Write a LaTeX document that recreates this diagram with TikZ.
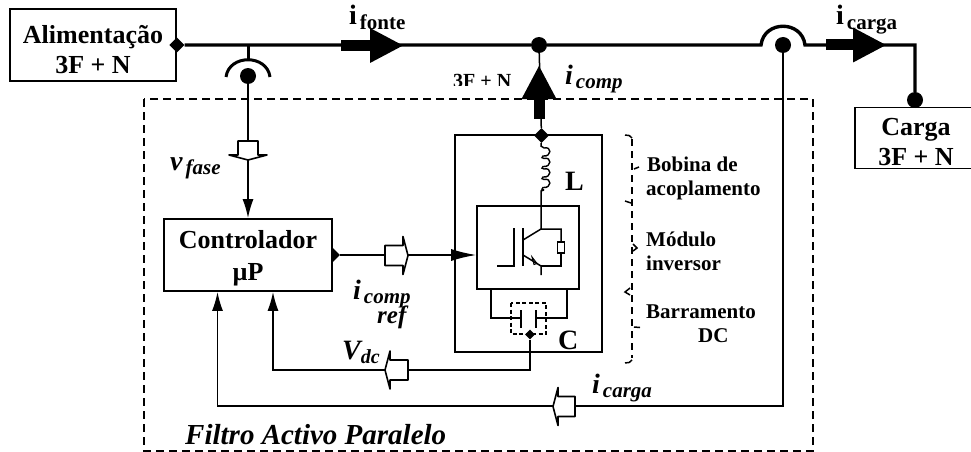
\documentclass[tikz,border=0pt]{standalone}
\usepackage{fontspec}
\setmainfont{Liberation Serif}
\usetikzlibrary{arrows.meta,positioning,calc,shapes.geometric}
\newcommand{\fsz}[1]{\fontsize{#1}{#1}\selectfont}
\newcommand{\sublbl}[2]{#1\hspace{3pt}\raisebox{-4.5pt}{\fsz{21}#2}}
\tikzset{
  boxnode/.style={draw, line width=1.8pt, fill=white, align=center, inner sep=0pt, font=\fsz{26}\bfseries},
  lbl/.style={inner sep=0pt, anchor=base west},
  sidelbl/.style={lbl, font=\fsz{21}\bfseries},
  dotnode/.style={circle, fill=black, inner sep=0pt, minimum size=16pt},
  diamnode/.style={diamond, fill=black, inner sep=0pt, minimum size=15pt},
  mainline/.style={line width=3.4pt},
  ctrlline/.style={line width=1.5pt},
  ctrlarrow/.style={line width=1.5pt, -{Latex[length=19pt,width=11pt]}},
  pics/blockarrow/.style={code={
    \draw[line width=1.6pt, fill=white, line join=round] (-#1-5,-10) -- (-5,-10) -- (-5,-19) -- (0,0) -- (-5,19) -- (-5,10) -- (-#1-5,10) -- cycle;
  }},
  pics/powerarrow/.style={code={
    \fill (-#1-30,-5.5) rectangle (-28,5.5);
    \fill (-33,-17.5) -- (0,0) -- (-33,17.5) -- cycle;
  }}
}
\begin{document}
\begin{tikzpicture}[x=1pt, y=-1pt]
  \useasboundingbox (0,0) rectangle (971,452);
  % Active filter frame
  \draw[line width=1.6pt, dash pattern=on 8pt off 5pt] (144,99) rectangle (813,451);
  \node[lbl, font=\fsz{29}\bfseries\itshape] (filtrolbl) at (185,444) {Filtro Activo Paralelo};
  % Source, load and controller blocks
  \node[boxnode, minimum width=166pt, minimum height=72pt] (alim) at (93,45) {\rule{0pt}{28pt}Alimenta\c{c}\~ao\\[4pt]3F + N};
  \node[boxnode, minimum width=122pt, minimum height=61pt] (carga) at (916,138) {\rule{0pt}{26pt}Carga\\[4pt]3F + N};
  \node[diamnode, minimum size=16pt] (ctrlout) at (332,255) {};
  \node[boxnode, minimum width=168pt, minimum height=72pt] (ctrl) at (248,255) {\rule{0pt}{25.5pt}Controlador\\[6pt]µP};
  % Mains line
  \node[diamnode] (alimout) at (alim.east) {};
  \node[dotnode] (jfonte) at (539,45) {};
  \node[dotnode] (dcarga) at (783,45) {};
  \node[dotnode] (dload) at (915,100) {};
  \coordinate (ptap) at (248,45);
  \coordinate (jumpa) at (761,45);
  \coordinate (jumpb) at (805,45);
  \coordinate (loadturn) at (915,45);
  \draw[mainline] (alimout) -- (jfonte) -- (jumpa)
    .. controls (764,20) and (802,20) .. (jumpb) -- (loadturn) -- (dload);
  \pic at (403,45.5) {powerarrow=32};
  \pic at (886,45) {powerarrow=30};
  \node[lbl, font=\fsz{28}\bfseries] (ifonte) at (349,25) {\sublbl{i}{fonte}};
  \node[lbl, font=\fsz{28}\bfseries] (icarga) at (836,25) {\sublbl{i}{carga}};
  % Voltage tap
  \node[dotnode] (dtap) at (248,76) {};
  \coordinate (tapa) at (226,77);
  \coordinate (tapb) at (270,77);
  \draw[line width=3pt] (tapa) .. controls (229,54) and (267,54) .. (tapb);
  \draw[line width=3pt] (ptap) -- (248,60);
  \draw[ctrlarrow] (dtap) -- (ctrl.north);
  \pic[rotate=-90] at (248,160) {blockarrow=14};
  \node[lbl, font=\fsz{28}\bfseries\itshape] (vfase) at (170,170) {\sublbl{v}{fase}};
  % Inverter cabinet
  \node[draw, line width=1.8pt, minimum width=147pt, minimum height=217pt, inner sep=0pt] (cab) at (528.5,243.5) {};
  \node[draw, line width=1.6pt, minimum width=102pt, minimum height=83pt, inner sep=0pt] (modinv) at (528,247.5) {};
  \node[diamnode] (dcab) at (541.5,135.5) {};
  \draw[ctrlline] (jfonte) -- (dcab);
  \pic[rotate=90] at (539,66) {powerarrow=23};
  \node[lbl, font=\fsz{28}\bfseries\itshape] (icomp) at (565,84) {\sublbl{i}{comp}};
  \begin{scope}
    \clip (445,60) rectangle (520,85.5);
    \node[lbl, font=\fsz{20}\bfseries] (lbl3f) at (453,88) {3F + N};
  \end{scope}
  % Coupling coil
  \draw[ctrlline] (dcab) -- (541,146) -- (544,148);
  \foreach \ypos in {148,158.5,169,179.5} {
    \draw[line width=1.4pt] (544,\ypos) .. controls (552,\ypos-2) and (552,\ypos+9) .. (543,\ypos+8)
      .. controls (541,\ypos+9) and (542,\ypos+10.5) .. (544,\ypos+10.5);
  }
  \draw[ctrlline] (544,190) -- (541,191) -- (541,229);
  \node[lbl, font=\fsz{28}\bfseries] (lblL) at (565,190) {L};
  % IGBT with its diode branch
  \draw[ctrlline] (497,266) -- (514,266) -- (514,228);
  \draw[line width=1.7pt] (523,228) -- (523,266);
  \draw[ctrlline] (523,240) -- (541,229) -- (561,229) -- (561,242);
  \draw[ctrlline] (561,253) -- (561,266) -- (541,266);
  \draw[ctrlline] (523,255) -- (541,266) -- (541,275);
  \draw[line width=1pt] (532,257) -- (537,263.5) -- (534,264.5) -- cycle;
  \draw[line width=1.3pt] (557.5,242) rectangle (564.5,253);
  % DC bus capacitor
  \coordinate (capl) at (491,289);
  \coordinate (capr) at (567,289);
  \draw[ctrlline] (capl) -- (491,318) -- (520,318);
  \draw[ctrlline] (capr) -- (567,318) -- (537,318);
  \draw[line width=2.6pt] (521,310) -- (521,328);
  \draw[line width=2.6pt] (536,310) -- (536,328);
  \draw[line width=1.3pt, dash pattern=on 4pt off 2.5pt] (511,303) rectangle (546,334);
  \node[diamond, fill=black, inner sep=0pt, minimum size=10pt, aspect=1.6] (dcap) at (530,334.5) {};
  \node[lbl, font=\fsz{28}\bfseries] (lblC) at (558,349) {C};
  % Signals into the controller and inverter
  \coordinate (vdcturn) at (273,370);
  \coordinate (iturn) at (217.5,406);
  \draw[ctrlline, -{Latex[length=25pt,width=12pt]}] (ctrlout) -- (ctrl.east -| modinv.west);
  \draw[ctrlarrow] (dcap) -- (dcap |- vdcturn) -- (vdcturn) -- (vdcturn |- ctrl.south);
  \draw[ctrlarrow] (dcarga) -- (dcarga |- iturn) -- (iturn) -- (iturn |- ctrl.south);
  \pic at (408,255.5) {blockarrow=18};
  \pic[rotate=180] at (385,370) {blockarrow=18};
  \pic[rotate=180] at (553,406.5) {blockarrow=17};
  \node[lbl, font=\fsz{28}\bfseries\itshape] (icompref) at (353,299) {\sublbl{i}{comp}};
  \node[lbl, font=\fsz{25}\bfseries\itshape] (lblref) at (377,323) {ref};
  \node[lbl, font=\fsz{28}\bfseries\itshape] (vdc) at (342,359) {V\raisebox{-4.5pt}{\fsz{20}dc}};
  \node[lbl, font=\fsz{28}\bfseries\itshape] (icargaret) at (592,393) {\sublbl{i}{carga}};
  % Dashed brackets and their labels
  \draw[line width=1.5pt, dash pattern=on 7pt off 5pt] (632,139) -- (632,358);
  \draw[line width=1.5pt] (625,135) .. controls (628,135) and (631,135.5) .. (632,138);
  \draw[line width=1.5pt] (632,360) .. controls (631,362.5) and (628,363) .. (625,363);
  \draw[line width=1.5pt] (639,167) -- (634,169);
  \draw[line width=1.5pt] (625,201) -- (631,203);
  \draw[line width=1.5pt] (633,244) -- (637,248) -- (633,251);
  \draw[line width=1.5pt] (630,288) -- (625,292) -- (630,295);
  \draw[line width=1.5pt] (634,327) -- (640,327.5);
  \node[sidelbl] (lblbob) at (647,171) {Bobina de};
  \node[sidelbl] (lblaco) at (646,195) {acoplamento};
  \node[sidelbl] (lblmod) at (646,246) {M\'odulo};
  \node[sidelbl] (lblinv) at (646,270) {inversor};
  \node[sidelbl] (lblbar) at (646,318) {Barramento};
  \node[sidelbl] (lbldc) at (698,342) {DC};
\end{tikzpicture}
\end{document}
